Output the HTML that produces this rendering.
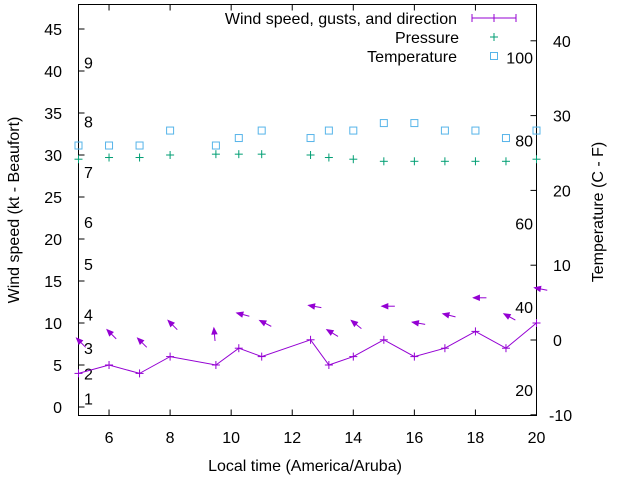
<!DOCTYPE html>
<html><head><meta charset="utf-8"><style>
body{margin:0;background:#fff;}
svg text{font-family:"Liberation Sans",Arial,sans-serif;font-size:16px;fill:#000;}
</style></head><body>
<svg id="chart" width="640" height="480" viewBox="0 0 640 480" xmlns="http://www.w3.org/2000/svg">
<g id="g"></g>
</svg>
<script>
const hours = [5, 6, 7, 8, 9.5, 10.25, 11, 12.6, 13.2, 14, 15, 16, 17, 18, 19, 20];
const windSpeed = [4, 5, 4, 6, 5, 7, 6, 8, 5, 6, 8, 6, 7, 9, 7, 10];
const gusts = [8.2, 9.2, 8.2, 10.3, 9.4, 11.2, 10.3, 12.1, 9.2, 10.3, 12, 10.1, 11.1, 13, 11.1, 14.2];
const arrowAngle = [45, 45, 45, 45, 85, 15, 27, 10, 31, 39, 0, 10, 14, 0, 29, 11];
const pressure = [29.5, 29.7, 29.7, 30.0, 30.1, 30.1, 30.1, 30.0, 29.7, 29.5, 29.25, 29.25, 29.25, 29.25, 29.25, 29.5];
const tempC = [26, 26, 26, 28, 26, 27, 28, 27, 28, 28, 29, 29, 28, 28, 27, 28];
const xTicks = [6, 8, 10, 12, 14, 16, 18, 20];
const yTicks = [0, 5, 10, 15, 20, 25, 30, 35, 40, 45];
const y2Ticks = [-10, 0, 10, 20, 30, 40];
const beaufortKt = [1, 4, 7, 11, 17, 22, 28, 34, 41];
const beaufortLabels = ["1","2","3","4","5","6","7","8","9"];
const fahrenheit = [20, 40, 60, 80, 100];

const L=78.5,R=536.5,T=4.5,B=415.5;
const xs=h=>L+(h-5)*(R-L)/15;
const ys=v=>407-v*8.4;
const y2=c=>340-c*7.48;
const g=document.getElementById('g');
const NS='http://www.w3.org/2000/svg';
function mk(tag,attrs,parent){const e=document.createElementNS(NS,tag);for(const k in attrs)e.setAttribute(k,attrs[k]);(parent||g).appendChild(e);return e;}
function txt(x,y,s,anchor){const t=mk('text',{x:x,y:y,'text-anchor':anchor||'start'});t.textContent=s;return t;}

const fr=mk('rect',{x:L,y:T,width:R-L,height:B-T,fill:'none',stroke:'#000','stroke-width':1});


xTicks.forEach(h=>{
  const x=xs(h);
  const t1=mk('line',{x1:x,y1:B,x2:x,y2:B-6,stroke:'#000'});
  
  
  mk('line',{x1:x,y1:T,x2:x,y2:T+6,stroke:'#000'});
  const l=txt(x,443,String(h),'middle');
  
  
});
yTicks.forEach(v=>{
  const y=ys(v);
  const t1=mk('line',{x1:L,y1:y,x2:L+6,y2:y,stroke:'#000'});
  
  
  const l=txt(62,y+6,String(v),'end');
  
  
});
y2Ticks.forEach(c=>{
  const y=y2(c);
  const t1=mk('line',{x1:R,y1:y,x2:R-6,y2:y,stroke:'#000'});
  
  
  const l=txt(c<0?549:553,y+6,String(c));
  
  
});
beaufortKt.forEach((k,i)=>{
  const l=txt(84,ys(k)+6,beaufortLabels[i]);
  
  
});
fahrenheit.forEach(f=>{
  const c=(f-32)*5/9;
  const l=txt(533,y2(c)+6,String(f),'end');
  
  
});
const yt=txt(0,0,'Wind speed (kt - Beaufort)','middle');
yt.setAttribute('transform','translate(19,210) rotate(-90)');


const y2t=txt(0,0,'Temperature (C - F)','middle');
y2t.setAttribute('transform','translate(603,212) rotate(-90)');


const xt=txt(305,471,'Local time (America/Aruba)','middle');



const purple='#9400d3',green='#009e73',blue='#56b4e9';
function plus(x,y,c,s){mk('line',{x1:x-s,y1:y,x2:x+s,y2:y,stroke:c});mk('line',{x1:x,y1:y-s,x2:x,y2:y+s,stroke:c});}
tempC.forEach((c,i)=>{
  const r=mk('rect',{x:xs(hours[i])-3.5,y:y2(c)-3.5,width:7,height:7,fill:'none',stroke:blue});
  
  
});
pressure.forEach((p,i)=>{
  const gp=mk('g',{});
  
  
  const x=xs(hours[i]),y=ys(p);
  mk('line',{x1:x-4,y1:y,x2:x+4,y2:y,stroke:green},gp);
  mk('line',{x1:x,y1:y-4,x2:x,y2:y+4,stroke:green},gp);
});
const pts=hours.map((h,i)=>xs(h)+','+ys(windSpeed[i])).join(' ');
const pl=mk('polyline',{points:pts,fill:'none',stroke:purple,'stroke-width':1});


windSpeed.forEach((w,i)=>{
  const gp=mk('g',{});
  
  
  const x=xs(hours[i]),y=ys(w);
  mk('line',{x1:x-4,y1:y,x2:x+4,y2:y,stroke:purple},gp);
  mk('line',{x1:x,y1:y-4,x2:x,y2:y+4,stroke:purple},gp);
});
gusts.forEach((v,i)=>{
  const a=arrowAngle[i]*Math.PI/180;
  const hx=xs(hours[i])-2,hy=ys(v);
  const dx=Math.cos(a),dy=Math.sin(a);
  const tx=hx+dx*13,ty=hy+dy*13;
  const gp=mk('g',{});
  
  
  mk('line',{x1:tx,y1:ty,x2:hx,y2:hy,stroke:purple},gp);
  const px=-dy,py=dx;
  const bx=hx+dx*6,by=hy+dy*6;
  mk('polygon',{points:`${hx},${hy} ${bx+px*2.5},${by+py*2.5} ${bx-px*2.5},${by-py*2.5}`,fill:purple,stroke:purple},gp);
});
const leg=[['Wind speed, gusts, and direction',18],['Pressure',37],['Temperature',56]];
leg.forEach((l,i)=>{
  const t=txt(i==1?459:457,l[1]+6,l[0],'end');
  
  
});
const ll=mk('line',{x1:472,y1:18,x2:516,y2:18,stroke:purple});


mk('line',{x1:472,y1:14,x2:472,y2:22,stroke:purple});
mk('line',{x1:516,y1:14,x2:516,y2:22,stroke:purple});
plus(494,18,purple,4);
plus(494,37,green,4);
const lr=mk('rect',{x:490.5,y:52.5,width:7,height:7,fill:'none',stroke:blue});


</script>
</body></html>
